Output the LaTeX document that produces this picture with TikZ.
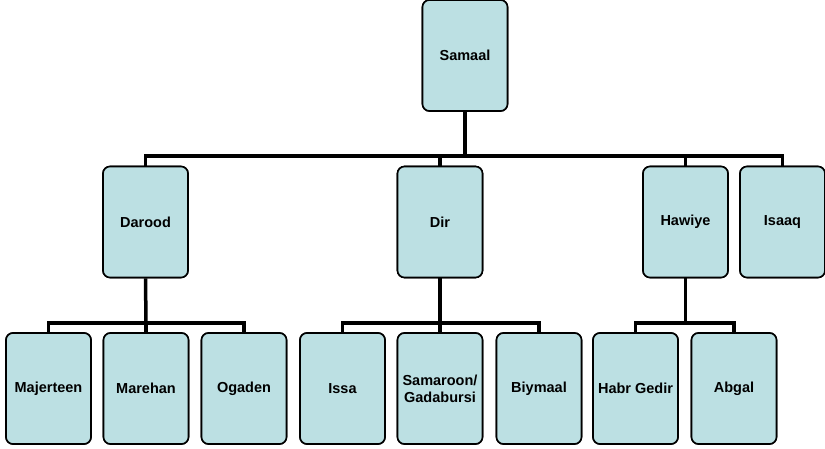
\documentclass[tikz,border=0pt]{standalone}
\usepackage{fontspec}
\setmainfont{Liberation Sans}
\definecolor{boxfill}{RGB}{188,224,227}
\begin{document}
\begin{tikzpicture}[x=1pt,y=-1pt,
  clan/.style={draw=black, line width=1.6pt, fill=boxfill, rounded corners=7pt,
    minimum width=85pt, minimum height=111pt, inner sep=1pt, align=center,
    font=\fontsize{14.5}{17}\selectfont\bfseries},
  link/.style={line width=3.5pt}]
\useasboundingbox (0,0) rectangle (825,448);
% nodes
\node[clan] (samaal) at (465,55.5) {Samaal};
\node[clan] (darood) at (145.5,222) {Darood};
\node[clan] (dir) at (440,222) {Dir};
\node[clan] (hawiye) at (685.5,222) {Hawiye};
\node[clan] (isaaq) at (782.5,222) {Isaaq};
\node[clan] (majerteen) at (48.5,388.5) {Majerteen};
\node[clan] (marehan) at (146,388.5) {Marehan};
\node[clan] (ogaden) at (244,388.5) {Ogaden};
\node[clan] (issa) at (342.5,388.5) {Issa};
\node[clan] (samaroon) at (440,388.5) {Samaroon/\\Gadabursi};
\node[clan] (biymaal) at (539,388.5) {Biymaal};
\node[clan] (habr) at (635.5,388.5) {Habr Gedir};
\node[clan] (abgal) at (734,388.5) {Abgal};
% connectors
\coordinate (top) at (465,156);
\draw[link] (samaal.south) -- (top);
\draw[link,line cap=rect] (darood.north) |- (top) -| (isaaq.north);
\draw[link] (dir.north) |- (top);
\draw[link] (hawiye.north) |- (top);
\coordinate (b1) at (146,323);
\draw[link] (darood.south) -- (b1);
\draw[link,line cap=rect] (majerteen.north) |- (b1) -| (ogaden.north);
\draw[link] (marehan.north) |- (b1);
\coordinate (b2) at (440,323);
\draw[link] (dir.south) -- (b2);
\draw[link,line cap=rect] (issa.north) |- (b2) -| (biymaal.north);
\draw[link] (samaroon.north) |- (b2);
\coordinate (b3) at (685.5,323);
\draw[link] (hawiye.south) -- (b3);
\draw[link,line cap=rect] (habr.north) |- (b3) -| (abgal.north);
% redraw boxes on top of line ends
\foreach \n/\t in {samaal/Samaal,darood/Darood,dir/Dir,hawiye/Hawiye,isaaq/Isaaq,majerteen/Majerteen,marehan/Marehan,ogaden/Ogaden,issa/Issa,biymaal/Biymaal,habr/Habr Gedir,abgal/Abgal}
  \node[clan] at (\n) {\t};
\node[clan] at (samaroon) {Samaroon/\\Gadabursi};
\end{tikzpicture}
\end{document}
